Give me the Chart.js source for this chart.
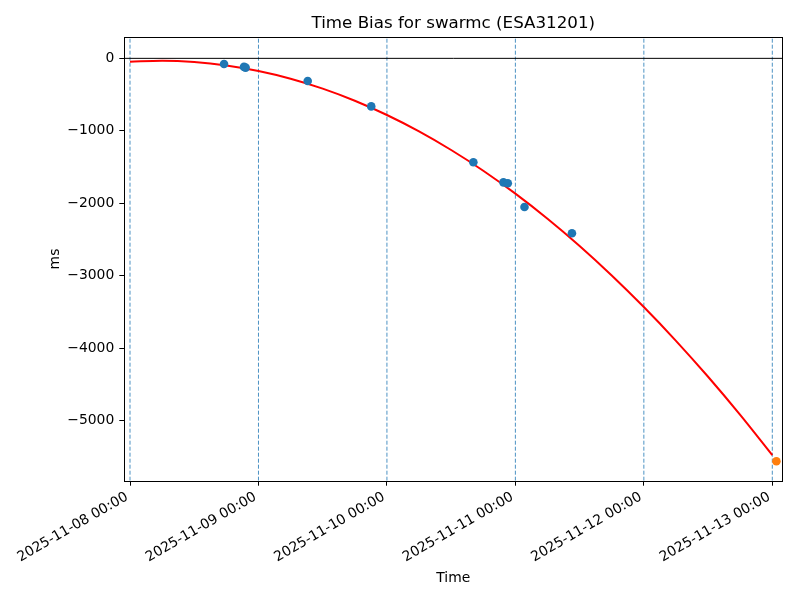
<!DOCTYPE html>
<html>
<head>
<meta charset="utf-8">
<title>Time Bias for swarmc (ESA31201)</title>
<script src="https://cdn.jsdelivr.net/npm/chart.js@4.4.1/dist/chart.umd.min.js"></script>
<style>
  html, body { margin: 0; padding: 0; background: #fff; }
  #wrap { width: 800px; height: 600px; }
</style>
</head>
<body>
<div id="wrap"><canvas id="biasChart" width="800" height="600"></canvas></div>
<script>
// Measured time bias (ms)
const sampleTimes = ['2025-11-08 17:34', '2025-11-08 21:18', '2025-11-08 21:36', '2025-11-09 09:12', '2025-11-09 21:04',
  '2025-11-10 16:09', '2025-11-10 21:46', '2025-11-10 22:35', '2025-11-11 01:42', '2025-11-11 10:34'];
const sampleBias = [-79, -118, -128, -313, -663, -1435, -1712, -1725, -2052, -2415];

// Predicted value at the end
const predTimes = ['2025-11-13 00:46'];
const predBias = [-5562];

const fitTimes = ['2025-11-08 00:00', '2025-11-08 06:00', '2025-11-08 12:00', '2025-11-08 18:00',
  '2025-11-09 00:00', '2025-11-09 06:00', '2025-11-09 12:00', '2025-11-09 18:00',
  '2025-11-10 00:00', '2025-11-10 06:00', '2025-11-10 12:00', '2025-11-10 18:00',
  '2025-11-11 00:00', '2025-11-11 06:00', '2025-11-11 12:00', '2025-11-11 18:00',
  '2025-11-12 00:00', '2025-11-12 06:00', '2025-11-12 12:00', '2025-11-12 18:00',
  '2025-11-13 00:00'];
const fitBias = [-47, -34, -51, -98, -175, -281, -418, -585, -782, -1008, -1265, -1551,
  -1868, -2214, -2590, -2997, -3433, -3899, -4395, -4921, -5477];

// Axes
const dayTicks = ['2025-11-08 00:00', '2025-11-09 00:00', '2025-11-10 00:00', '2025-11-11 00:00', '2025-11-12 00:00', '2025-11-13 00:00'];
const yTicks = [0, -1000, -2000, -3000, -4000, -5000];
const xRange = ['2025-11-07 22:56', '2025-11-13 01:52'];
const yRange = [-5830, 290];

// hours since 2025-11-08 00:00 UTC
const BASE = Date.parse('2025-11-08T00:00:00Z');
const hrs = s => (Date.parse(s.replace(' ', 'T') + ':00Z') - BASE) / 3600000;
const pts = (times, vals) => times.map((t, i) => ({ x: hrs(t), y: vals[i] }));

const xMin = hrs(xRange[0]), xMax = hrs(xRange[1]);

Chart.defaults.font.family = "'DejaVu Sans', sans-serif";
Chart.defaults.color = '#000';

// matplotlib style box around the axes
const frame = {
  id: 'frame',
  afterDatasetsDraw(chart) {
    const { ctx, chartArea: a } = chart;
    ctx.save();
    ctx.strokeStyle = '#000';
    ctx.lineWidth = 1;
    const l = Math.round(a.left) + 0.5, t = Math.round(a.top) + 0.5;
    ctx.strokeRect(l, t, Math.round(a.right) - Math.round(a.left), Math.round(a.bottom) - Math.round(a.top));
    ctx.restore();
  }
};

const dayLines = dayTicks.map(d => ({
  data: [{ x: hrs(d), y: yRange[0] }, { x: hrs(d), y: yRange[1] }],
  showLine: true, borderColor: 'rgba(31,119,180,0.8)', borderWidth: 1, borderDash: [4, 2],
  pointRadius: 0, order: 5
}));

new Chart(document.getElementById('biasChart'), {
  type: 'scatter',
  data: {
    datasets: [
      { data: pts(sampleTimes, sampleBias), backgroundColor: '#1f77b4', pointBackgroundColor: '#1f77b4',
        pointRadius: 4.3, pointBorderWidth: 0, order: 1 },
      { data: pts(predTimes, predBias), backgroundColor: '#ff7f0e', pointBackgroundColor: '#ff7f0e',
        pointRadius: 4.3, pointBorderWidth: 0, order: 2 },
      { data: pts(fitTimes, fitBias), showLine: true, borderColor: '#ff0000', borderWidth: 2,
        cubicInterpolationMode: 'monotone', pointRadius: 0, order: 3 },
      { data: [{ x: xMin, y: 0 }, { x: xMax, y: 0 }], showLine: true, borderColor: '#000', borderWidth: 1,
        pointRadius: 0, order: 4 },
      ...dayLines
    ]
  },
  options: {
    responsive: false, animation: false,
    layout: { padding: { left: 0, right: 17.7, top: 0, bottom: 0 } },
    scales: {
      x: {
        type: 'linear', min: xMin, max: xMax,
        afterBuildTicks: ax => { ax.ticks = dayTicks.map(d => ({ value: hrs(d) })); },
        afterFit: ax => { ax.height = 119.3; },
        ticks: { autoSkip: false, minRotation: 30, maxRotation: 30, padding: 3, labelOffset: -3,
          font: { size: 13.9 }, callback: (v, i) => dayTicks[i] },
        grid: { drawOnChartArea: false, drawTicks: true, tickLength: 5, color: '#000', tickColor: '#000' },
        border: { display: false },
        title: { display: true, text: 'Time', font: { size: 13.9 }, padding: { top: 0, bottom: 13 } }
      },
      y: {
        min: yRange[0], max: yRange[1],
        afterBuildTicks: ax => { ax.ticks = yTicks.map(v => ({ value: v })); },
        afterFit: ax => { ax.width = 124.3; },
        ticks: { padding: 5, font: { size: 13.9 },
          callback: v => v < 0 ? '\u2212' + Math.abs(v) : String(v) },
        grid: { drawOnChartArea: false, drawTicks: true, tickLength: 5, color: '#000', tickColor: '#000' },
        border: { display: false },
        title: { display: true, text: 'ms', font: { size: 13.9 }, padding: { top: 47, bottom: 0 } }
      }
    },
    plugins: {
      legend: { display: false },
      tooltip: { enabled: false },
      title: { display: true, fullSize: false, text: 'Time Bias for swarmc (ESA31201)', font: { size: 16.7, weight: 'normal' },
        color: '#000', padding: { top: 13.5, bottom: 3.8 } }
    }
  },
  plugins: [frame]
});
</script>
</body>
</html>
